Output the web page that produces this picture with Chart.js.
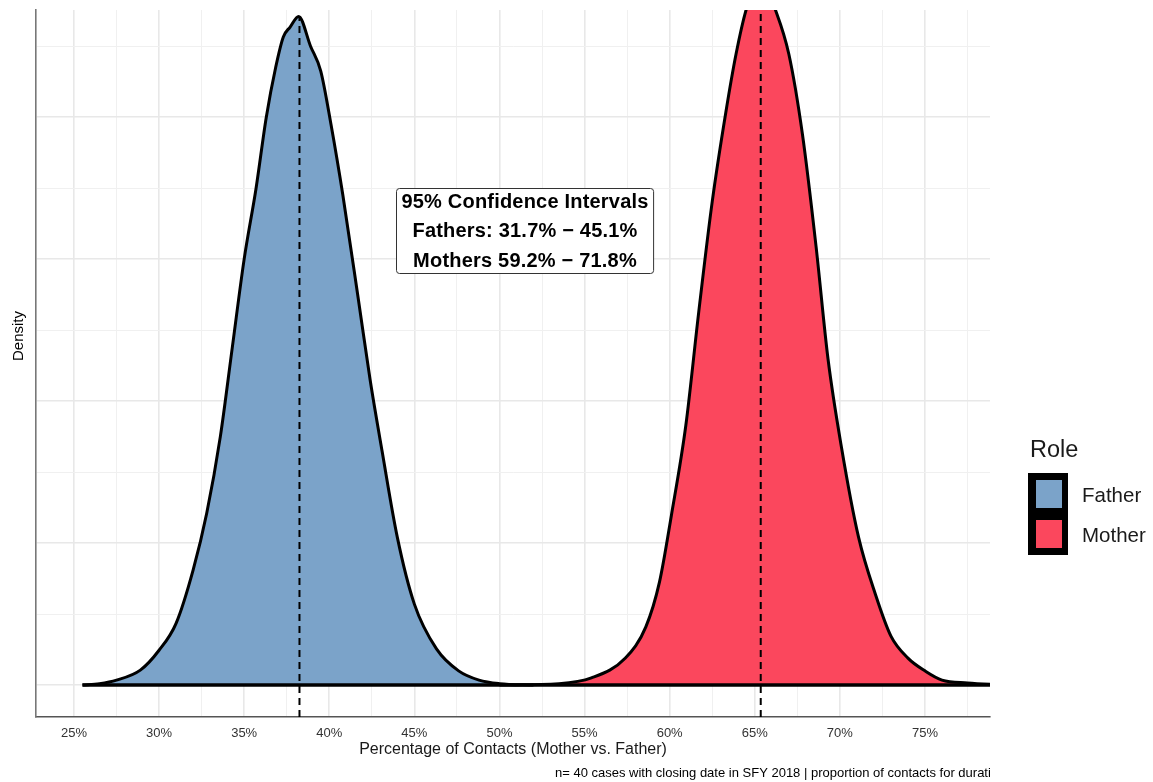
<!DOCTYPE html>
<html>
<head>
<meta charset="utf-8">
<script src="https://cdn.jsdelivr.net/npm/chart.js@4.4.1/dist/chart.umd.min.js"></script>
<style>
  html, body { margin: 0; padding: 0; background: #fff; }
  #c { display: block; }
</style>
</head>
<body>
<canvas id="c" width="1153" height="782"></canvas>
<script>
// posterior density of the share of contacts
const fatherPct = [25.5, 26.5, 27.5, 28.9, 30.0, 31.0, 32.0, 32.8, 33.6, 34.3, 35.0, 35.7, 36.3, 36.85, 37.3, 37.7, 38.2, 38.9, 39.5, 40.1, 40.8, 41.7, 42.4, 43.1, 44.0, 45.0, 46.3, 47.6, 48.8, 50.0, 52.0];
const fatherDensity = [0, 0.02, 0.07, 0.21, 0.49, 0.87, 1.62, 2.42, 3.5, 4.75, 6.0, 7.0, 8.0, 8.7, 9.13, 9.27, 9.42, 9.0, 8.65, 7.9, 6.9, 5.45, 4.3, 3.3, 2.08, 1.14, 0.51, 0.2, 0.07, 0.02, 0];

const motherPct = [50.0, 53.5, 55.4, 57.4, 58.6, 59.4, 60.1, 60.95, 61.7, 62.5, 63.3, 63.9, 64.5, 65.3, 66.2, 67.0, 67.8, 68.6, 69.3, 70.1, 71.1, 72.1, 73.0, 74.0, 75.0, 76.0, 77.5, 80.0];
const motherDensity = [0, 0.02, 0.1, 0.38, 0.82, 1.45, 2.39, 3.66, 5.24, 6.81, 8.07, 8.89, 9.52, 10.0, 9.52, 8.89, 7.76, 6.18, 4.6, 3.34, 2.08, 1.27, 0.69, 0.38, 0.2, 0.07, 0.03, 0];

// dashed lines at the means
const meanPct = [38.25, 65.35];
const meanTop = [9.42, 10.0];

const roles = ["Father", "Mother"];
const roleColors = ["#7ba3c9", "#fb475d"];

const xTickValues = [25, 27.5, 30, 32.5, 35, 37.5, 40, 42.5, 45, 47.5, 50, 52.5, 55, 57.5, 60, 62.5, 65, 67.5, 70, 72.5, 75, 77.5];
const yTickValues = [0, 1, 2, 3, 4, 5, 6, 7, 8, 9];

const ciLines = ["95% Confidence Intervals", "Fathers: 31.7% \u2212 45.1%", "Mothers 59.2% \u2212 71.8%"];
const ciAnchor = { x: 51.5, y: 7.0 };
const caption = "n= 40 cases with closing date in SFY 2018 | proportion of contacts for duration of case";

const FONT = '"Liberation Sans", Arial, Helvetica, sans-serif';

function pts(xs, ys) {
    return xs.map((v, i) => ({ x: v, y: ys[i] }));
}

function curve(label, xs, ys, color) {
    return {
        label: label,
        data: pts(xs, ys),
        backgroundColor: color,
        borderColor: "#000",
        borderWidth: 3,
        fill: { value: 0 },
        cubicInterpolationMode: "monotone",
        pointRadius: 0,
        clip: 0,
        order: 3
    };
}

function meanLine(i) {
    return {
        label: "mean " + roles[i],
        data: [{ x: meanPct[i], y: -0.45 }, { x: meanPct[i], y: meanTop[i] }],
        borderColor: "#000",
        borderWidth: 2,
        borderDash: [7, 5],
        tension: 0,
        fill: false,
        pointRadius: 0,
        clip: 0,
        order: 1
    };
}

const baseline = {
    label: "baseline",
    data: [{ x: fatherPct[0], y: 0 }, { x: motherPct[motherPct.length - 1], y: 0 }],
    borderColor: "#000",
    borderWidth: 3.5,
    tension: 0,
    fill: false,
    pointRadius: 0,
    clip: 0,
    order: 2
};

const extras = {
    id: "extras",
    afterDatasetsDraw(chart) {
        const { ctx, scales } = chart;
        // confidence interval label
        const cx = scales.x.getPixelForValue(ciAnchor.x);
        const top = scales.y.getPixelForValue(ciAnchor.y);
        ctx.save();
        ctx.font = "bold 20px " + FONT;
        ctx.letterSpacing = "0.2px";
        let w = 0;
        ciLines.forEach(t => { w = Math.max(w, ctx.measureText(t).width); });
        const bw = w + 10, bh = 85;
        ctx.beginPath();
        ctx.roundRect(Math.round(cx - bw / 2) + 0.5, Math.round(top) + 0.5, bw, bh, 3);
        ctx.fillStyle = "#fff";
        ctx.fill();
        ctx.strokeStyle = "#333";
        ctx.lineWidth = 1;
        ctx.stroke();
        ctx.fillStyle = "#000";
        ctx.textAlign = "center";
        ctx.textBaseline = "middle";
        ciLines.forEach((t, i) => ctx.fillText(t, cx, top + 14 + i * 29.5));
        ctx.restore();
    },
    afterDraw(chart) {
        const { ctx, chartArea } = chart;
        ctx.save();
        // y axis title
        ctx.translate(19, 336);
        ctx.rotate(-Math.PI / 2);
        ctx.font = "15px " + FONT;
        ctx.fillStyle = "#000";
        ctx.textAlign = "center";
        ctx.textBaseline = "middle";
        ctx.fillText("Density", 0, 0);
        ctx.restore();

        // caption, cut off at the panel edge like the original
        ctx.save();
        ctx.beginPath();
        ctx.rect(0, 760, chartArea.right, 22);
        ctx.clip();
        ctx.font = "13px " + FONT;
        ctx.fillStyle = "#000";
        ctx.textBaseline = "alphabetic";
        ctx.fillText(caption, 555, 777);
        ctx.restore();

        // legend
        const lx = chartArea.right + 38;
        ctx.save();
        ctx.fillStyle = "#1a1a1a";
        ctx.font = "23.5px " + FONT;
        ctx.fillText("Role", lx + 2, 457);
        ctx.fillStyle = "#000";
        ctx.fillRect(lx, 473, 40, 82);
        roles.forEach((r, i) => {
            ctx.fillStyle = roleColors[i];
            ctx.fillRect(lx + 8, 480 + i * 40, 26, 28);
            ctx.fillStyle = "#1a1a1a";
            ctx.font = "20.5px " + FONT;
            ctx.fillText(r, lx + 54, 502 + i * 40);
        });
        ctx.restore();
    }
};

new Chart(document.getElementById("c"), {
    type: "line",
    data: {
        datasets: [
            meanLine(0),
            meanLine(1),
            baseline,
            curve(roles[0], fatherPct, fatherDensity, roleColors[0]),
            curve(roles[1], motherPct, motherDensity, roleColors[1])
        ]
    },
    options: {
        responsive: false,
        animation: false,
        events: [],
        layout: { padding: { left: 36, right: 163, top: 10, bottom: 23 } },
        plugins: {
            legend: { display: false },
            tooltip: { enabled: false }
        },
        scales: {
            x: {
                type: "linear",
                min: 22.77,
                max: 78.82,
                afterBuildTicks(s) { s.ticks = xTickValues.map(v => ({ value: v })); },
                afterFit(s) { s.height = 42; },
                ticks: {
                    padding: 9,
                    color: "#333",
                    font: { family: FONT, size: 13 },
                    autoSkip: false,
                    maxRotation: 0,
                    callback: v => (v % 5 === 0 ? v + "%" : "")
                },
                grid: {
                    drawTicks: false,
                    color: c => (c.tick && c.tick.value % 5 === 0 ? "#e8e8e8" : "#f0f0f0"),
                    lineWidth: c => (c.tick && c.tick.value % 5 === 0 ? 1.6 : 1)
                },
                border: { color: "#555", width: 1.4 },
                title: {
                    display: true,
                    text: "Percentage of Contacts (Mother vs. Father)",
                    color: "#1a1a1a",
                    font: { family: FONT, size: 16 },
                    padding: 0
                }
            },
            y: {
                type: "linear",
                min: -0.45,
                max: 9.51,
                afterBuildTicks(s) { s.ticks = yTickValues.map(v => ({ value: v })); },
                afterFit(s) { s.width = 0; },
                ticks: { display: false },
                grid: {
                    drawTicks: false,
                    color: c => (c.tick && c.tick.value % 2 === 0 ? "#e8e8e8" : "#f0f0f0"),
                    lineWidth: c => (c.tick && c.tick.value % 2 === 0 ? 1.6 : 1)
                },
                border: { color: "#777", width: 1.6 }
            }
        }
    },
    plugins: [extras]
});
</script>
</body>
</html>
